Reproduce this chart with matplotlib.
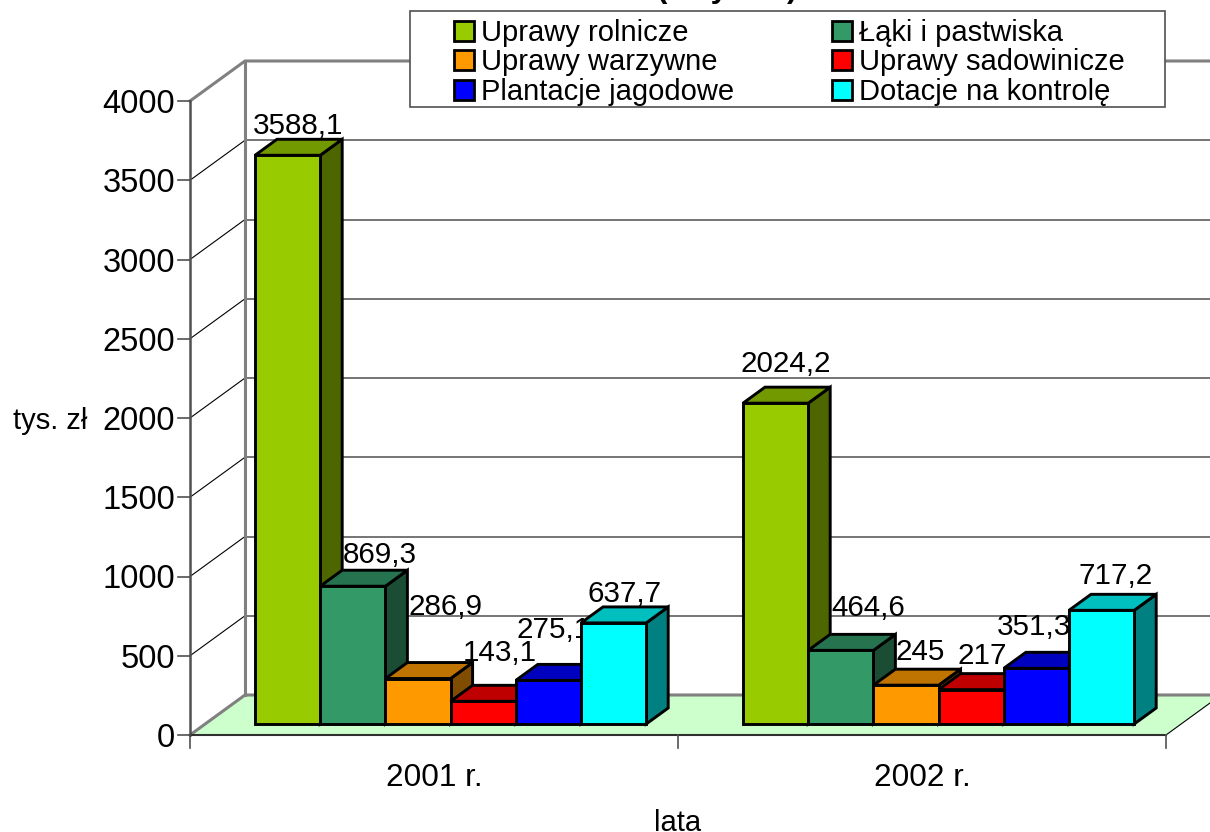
import matplotlib
matplotlib.use("Agg")
import matplotlib.pyplot as plt
from matplotlib.patches import Polygon, Rectangle, Patch
from matplotlib.transforms import IdentityTransform

plt.rcParams['font.family'] = ['Liberation Sans', 'DejaVu Sans']

# ---- data ----
years = ['2001 r.', '2002 r.']
uprawy_rolnicze = [3588.1, 2024.2]
laki_pastwiska = [869.3, 464.6]
uprawy_warzywne = [286.9, 245]
uprawy_sadownicze = [143.1, 217]
plantacje_jagodowe = [275.1, 351.3]
dotacje_kontrola = [637.7, 717.2]
y_ticks = [0, 500, 1000, 1500, 2000, 2500, 3000, 3500, 4000]
series_names = ['Uprawy rolnicze', 'Łąki i pastwiska', 'Uprawy warzywne',
                'Uprawy sadowinicze', 'Plantacje jagodowe', 'Dotacje na kontrolę']
value_labels = [['3588,1', '2024,2'], ['869,3', '464,6'], ['286,9', '245'],
                ['143,1', '217'], ['275,1', '351,3'], ['637,7', '717,2']]

series = [uprawy_rolnicze, laki_pastwiska, uprawy_warzywne,
          uprawy_sadownicze, plantacje_jagodowe, dotacje_kontrola]

# ---- style ----
front_cols = ['#99CC00', '#339966', '#FF9900', '#FF0000', '#0000FF', '#00FFFF']
top_cols = ['#739900', '#267350', '#BF7300', '#BF0000', '#0000BF', '#00BFBF']
side_cols = ['#4D6600', '#1A4D33', '#804D00', '#800000', '#000080', '#008080']
# hand-moved data label offsets (px right of bar centre, px above back top edge)
label_dx = [[10, 10], [27, 27], [28, 14], [17, 11], [5, -2], [11, 14]]
label_up = [[5, 15], [7, 18], [48, 9], [24, 10], [26, 17], [5, 10]]

W, H = 1210, 832
PX_X = 488.0          # px per category
PX_Y = 634.0 / 4000   # px per value unit
X0, Y0 = 190, 735     # pixel position of category 0 / value 0
WALL_DX, WALL_DY = 55, 40
BAR_W, BAR_DX, BAR_DY = 65.2, 22, 16
GROUP_DX, GROUP_DY = 65, 11
GRAY, DARK = '#808080', '#505050'

fig = plt.figure(figsize=(W / 100, H / 100), dpi=100, facecolor='white')
ax = fig.add_axes([0, 0, 1, 1])
ax.set_xlim(-X0 / PX_X, (W - X0) / PX_X)
ax.set_ylim(-(H - Y0) / PX_Y, Y0 / PX_Y)
ax.axis('off')


def P(cat, val, dx=0.0, up=0.0):
    """Chart position (category, value) shifted by a number of pixels."""
    return cat + dx / PX_X, val + up / PX_Y


x_right = (W - X0) / PX_X
# floor
ax.add_patch(Polygon([P(0, 0), P(0, 0, WALL_DX, WALL_DY), (x_right, P(0, 0, 0, WALL_DY)[1]),
                      (x_right, P(0, 0, 0, 32)[1]), P(2, 0)],
                     closed=True, fc='#CCFFCC', ec='none', zorder=1))
# gridlines on back wall and side wall
for v in y_ticks[1:-1]:
    ax.plot([P(0, v, WALL_DX)[0], x_right], [P(0, v, 0, WALL_DY)[1]] * 2, color=DARK, lw=1.1, zorder=1.5)
for v in y_ticks[1:-1]:
    a, b = P(0, v), P(0, v, WALL_DX, WALL_DY)
    ax.plot([a[0], b[0]], [a[1], b[1]], color='black', lw=0.8, zorder=1.5)
# thick wall edges
ax.plot(*zip(P(0, 4000), P(0, 4000, WALL_DX, WALL_DY), (x_right, P(0, 4000, 0, WALL_DY)[1])),
        color=GRAY, lw=2.2, zorder=2, solid_joinstyle='miter')
ax.plot(*zip(P(0, 0), P(0, 0, WALL_DX, WALL_DY), (x_right, P(0, 0, 0, WALL_DY)[1])),
        color=GRAY, lw=2.2, zorder=2)
ax.plot(*zip(P(0, 0, WALL_DX, WALL_DY), P(0, 4000, WALL_DX, WALL_DY)), color=GRAY, lw=2.2, zorder=2)
# right floor edge
ax.plot(*zip(P(2, 0), (x_right, P(0, 0, 0, 32)[1])), color='black', lw=0.8, zorder=2)
# front axes
ax.plot([0, 0], [0, 4000], color=DARK, lw=1.8, zorder=2)
ax.plot([0, 2], [0, 0], color='#303030', lw=1.5, zorder=2)
for c in range(3):
    a, b = P(c, 0), P(c, 0, 0, -13)
    ax.plot([a[0], b[0]], [a[1], b[1]], color=DARK, lw=1.2, zorder=2)
for v in y_ticks:
    a, b = P(0, v, -12), P(0, v)
    ax.plot([a[0], b[0]], [a[1], b[1]], color=DARK, lw=1.2, zorder=2)
    ax.text(*P(0, v, -15), str(v), ha='right', va='center_baseline', fontsize=23.5, color='black', zorder=2)

# 3-D bars: drawn left to right, each bar and its label cover what came earlier
z = 3.0
for g in range(len(years)):
    for s, vals in enumerate(series):
        v = vals[g]
        left = GROUP_DX + s * BAR_W
        right = left + BAR_W
        kw = dict(closed=True, ec='black', lw=2.1, joinstyle='miter', zorder=z)
        ax.add_patch(Polygon([P(g, 0, right, GROUP_DY), P(g, 0, right + BAR_DX, GROUP_DY + BAR_DY),
                              P(g, v, right + BAR_DX, GROUP_DY + BAR_DY), P(g, v, right, GROUP_DY)],
                             fc=side_cols[s], **kw))
        ax.add_patch(Polygon([P(g, v, left, GROUP_DY), P(g, v, right, GROUP_DY),
                              P(g, v, right + BAR_DX, GROUP_DY + BAR_DY), P(g, v, left + BAR_DX, GROUP_DY + BAR_DY)],
                             fc=top_cols[s], **kw))
        ax.add_patch(Polygon([P(g, 0, left, GROUP_DY), P(g, 0, right, GROUP_DY),
                              P(g, v, right, GROUP_DY), P(g, v, left, GROUP_DY)],
                             fc=front_cols[s], **kw))
        ax.text(*P(g, v, left + BAR_W / 2 + label_dx[s][g], GROUP_DY + BAR_DY + label_up[s][g]),
                value_labels[s][g], ha='center', va='baseline', fontsize=21.3, color='black', zorder=z + 0.1)
        z += 0.2

# category labels and axis titles
for g, name in enumerate(years):
    ax.text(*P(g + 0.5, 0, 0, -51), name, ha='center', va='baseline', fontsize=22.7, color='black')
ax.text(*P(1, 0, 0, -96), 'lata', ha='center', va='baseline', fontsize=21, color='black')
ax.text(*P(0, 2000, -103, -11), 'tys. zł', ha='right', va='baseline', fontsize=21, color='black')

# title: only the descenders fall inside the picture
fig.text(727 / W, 1 + 3 / H, '(w tys. zł)', ha='center', va='baseline', fontsize=22.5,
         fontweight='bold', color='black')

# legend
ax.add_patch(Rectangle((410, H - 107), 755, 96, transform=IdentityTransform(), fc='white',
                       ec='#505050', lw=1.2, zorder=20))
handles = [Patch(fc=front_cols[i], ec='black', lw=2.0, label=series_names[i]) for i in range(6)]
ordered = [handles[0], handles[2], handles[4], handles[1], handles[3], handles[5]]
leg = ax.legend(handles=ordered, ncol=2, loc='upper left', bbox_to_anchor=(454, H - 19),
                bbox_transform=IdentityTransform(), frameon=False, fontsize=21,
                borderpad=0, borderaxespad=0, labelspacing=0.05, handlelength=0.68,
                handleheight=0.68, handletextpad=0.25, columnspacing=3.35)
leg.set_zorder(21)

fig.savefig('out.png', dpi=100)
